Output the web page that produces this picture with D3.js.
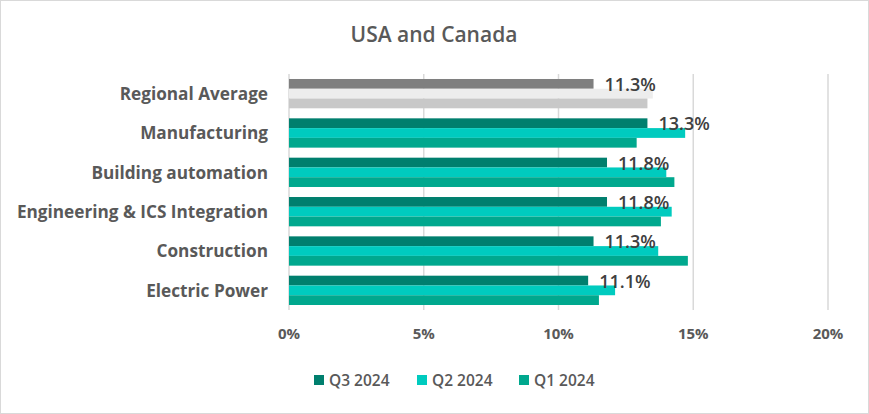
<!DOCTYPE html>
<html>
<head>
<meta charset="utf-8">
<script src="https://cdn.jsdelivr.net/npm/d3@7"></script>
<style>
  body { margin: 0; background: #fff; }
  text { font-family: "Open Sans", sans-serif; }
</style>
</head>
<body>
<div id="chart"></div>
<script>
// chart data
const categories = ["Regional Average", "Manufacturing", "Building automation",
    "Engineering & ICS Integration", "Construction", "Electric Power"];
const seriesNames = ["Q3 2024", "Q2 2024", "Q1 2024"];
const q3 = [11.3, 13.3, 11.8, 11.8, 11.3, 11.1];
const q2 = [13.5, 14.7, 14.0, 14.2, 13.7, 12.1];
const q1 = [13.3, 12.9, 14.3, 13.8, 14.8, 11.5];
const xTicks = [0, 5, 10, 15, 20];

const colors = ["#007f6e", "#00cbbf", "#00a88e"];
const avgColors = ["#7f7f7f", "#ededed", "#c8c8c8"];

const W = 869, H = 414;
const margin = { top: 74, right: 40, bottom: 104, left: 289 };

const svg = d3.select("#chart")
    .append("svg")
    .attr("width", W)
    .attr("height", H);

// border
svg.append("rect")
    .attr("x", 0.5).attr("y", 0.5)
    .attr("width", W - 1).attr("height", H - 1)
    .attr("fill", "#fff")
    .attr("stroke", "#d9d9d9");

const xScale = d3.scaleLinear().domain([0, 20]).range([margin.left, margin.left + 539]);
const yScale = d3.scaleBand().domain(categories).range([margin.top, H - margin.bottom]).paddingInner(0.255).paddingOuter(0.127);
const inner = d3.scaleBand().domain(seriesNames).range([0, yScale.bandwidth()]);

// gridlines
svg.append("g")
    .selectAll("line")
    .data(xTicks)
    .join("line")
    .attr("x1", d => xScale(d))
    .attr("x2", d => xScale(d))
    .attr("y1", margin.top)
    .attr("y2", H - margin.bottom)
    .style("stroke", "#d9d9d9")
    .style("stroke-width", 1.5);

// bars
const allSeries = [q3, q2, q1];
const rows = categories.map((c, i) => ({ cat: c, vals: allSeries.map(s => s[i]) }));

const groups = svg.append("g")
    .selectAll("g")
    .data(rows)
    .join("g")
    .attr("transform", d => `translate(0,${yScale(d.cat)})`);

groups.selectAll("rect")
    .data((d, i) => d.vals.map((v, j) => ({ v: v, s: seriesNames[j], j: j, avg: i === 0 })))
    .join("rect")
    .attr("x", xScale(0))
    .attr("y", d => inner(d.s))
    .attr("width", d => xScale(d.v) - xScale(0))
    .attr("height", inner.bandwidth())
    .style("fill", d => d.avg ? avgColors[d.j] : colors[d.j]);

// value labels for Q3
groups.append("text")
    .attr("x", d => xScale(d.vals[0]) + 11)
    .attr("y", inner("Q3 2024") + inner.bandwidth() / 2)
    .attr("dy", "0.4em")
    .style("font-size", "18px")
    .style("font-weight", "600")
    .style("fill", "#404040")
    .text(d => d.vals[0].toFixed(1) + "%");

// category labels
svg.append("g")
    .selectAll("text")
    .data(categories)
    .join("text")
    .attr("x", margin.left - 21)
    .attr("y", d => yScale(d) + yScale.bandwidth() / 2)
    .attr("dy", "0.36em")
    .attr("text-anchor", "end")
    .style("font-size", "17.2px")
    .style("font-weight", "bold")
    .style("fill", "#595959")
    .text(d => d);

// x tick labels
svg.append("g")
    .selectAll("text")
    .data(xTicks)
    .join("text")
    .attr("x", d => xScale(d))
    .attr("y", 339)
    .attr("text-anchor", "middle")
    .style("font-size", "15px")
    .style("font-weight", "bold")
    .style("fill", "#595959")
    .text(d => d + "%");

// title
svg.append("text")
    .attr("x", 434)
    .attr("y", 42)
    .attr("text-anchor", "middle")
    .style("font-size", "21px")
    .style("font-weight", "600")
    .style("fill", "#595959")
    .text("USA and Canada");

// legend
const legendX = [314, 417, 519];
const legend = svg.append("g")
    .selectAll("g")
    .data(seriesNames)
    .join("g")
    .attr("transform", (d, i) => `translate(${legendX[i]},375)`);

legend.append("rect")
    .attr("width", 10).attr("height", 10)
    .style("fill", (d, i) => colors[i]);

legend.append("text")
    .attr("x", 15)
    .attr("y", 5)
    .attr("dy", "0.36em")
    .style("font-size", "15.5px")
    .style("font-weight", "600")
    .style("fill", "#595959")
    .text(d => d);
</script>
</body>
</html>
